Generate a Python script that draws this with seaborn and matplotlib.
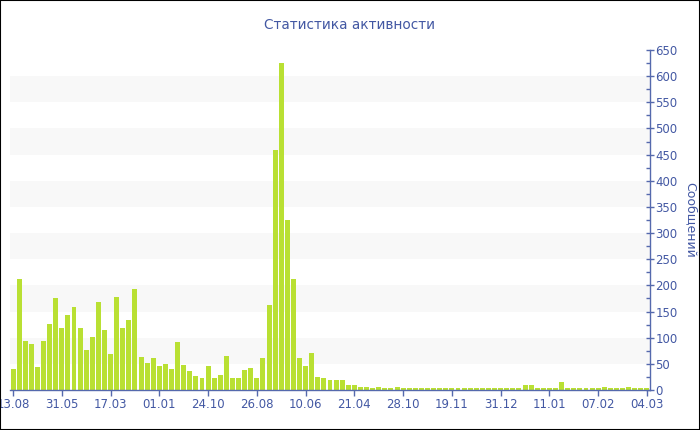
import matplotlib
matplotlib.use("Agg")
import matplotlib.pyplot as plt
from matplotlib.patches import Rectangle
from matplotlib.ticker import MultipleLocator
import seaborn as sns
import pandas as pd

# ---- data ----
messages = [40, 213, 93, 87, 44, 94, 126, 176, 119, 143, 159, 118, 76, 101, 168,
            114, 68, 177, 118, 134, 193, 64, 52, 62, 46, 49, 40, 91, 48, 36,
            26, 22, 45, 22, 28, 65, 22, 22, 38, 42, 22, 61, 162, 459, 626,
            325, 212, 62, 45, 71, 24, 23, 19, 19, 20, 10, 10, 6, 6, 3,
            6, 3, 4, 6, 4, 3, 3, 3, 4, 3, 4, 3, 4, 3, 3,
            3, 4, 4, 3, 4, 3, 3, 3, 4, 10, 10, 3, 3, 3, 3,
            15, 4, 4, 3, 3, 3, 3, 6, 3, 3, 3, 6, 4, 3, 4]
periods = list(range(len(messages)))
tick_labels = ["13.08", "31.05", "17.03", "01.01", "24.10", "26.08", "10.06",
               "21.04", "28.10", "19.11", "31.12", "11.01", "07.02", "04.03"]
tick_step = 8

title = "Статистика активности"
ylabel = "Сообщений"

# ---- style ----
sns.set_theme(style="white")
plt.rcParams["font.family"] = ["DejaVu Sans"]
text_c = "#4358a3"
axis_c = "#5569ad"
bar_c = "#b9e033"

df = pd.DataFrame({"period": periods, "messages": messages})

fig = plt.figure(figsize=(7, 4.3), dpi=100)
ax = fig.add_axes([10 / 700, 40 / 430, 640 / 700, 340 / 430])

for lo in range(50, 650, 100):
    ax.axhspan(lo, lo + 50, color="#f8f8f8", zorder=0, lw=0)

sns.barplot(data=df, x="period", y="messages", color=bar_c, saturation=1,
            width=0.82, ax=ax, zorder=2, linewidth=0)

ax.set_xlim(-0.5, len(messages) - 0.5)
ax.set_ylim(0, 650)

ax.set_xticks(range(0, len(messages), tick_step))
ax.set_xticklabels(tick_labels)
ax.set_xlabel("")

ax.yaxis.tick_right()
ax.yaxis.set_label_position("right")
ax.yaxis.set_major_locator(MultipleLocator(50))
ax.yaxis.set_minor_locator(MultipleLocator(25))
ax.set_ylabel(ylabel, rotation=270, labelpad=14, color=text_c, fontsize=9)

for s in ["top", "left"]:
    ax.spines[s].set_visible(False)
ax.spines["right"].set_color(axis_c)
ax.spines["bottom"].set_color(axis_c)
ax.spines["right"].set_linewidth(1)
ax.spines["bottom"].set_linewidth(1)

ax.tick_params(axis="x", colors=axis_c, labelcolor=text_c, labelsize=8.5,
               length=4, width=1, direction="out", bottom=True, pad=2)
ax.tick_params(axis="y", which="major", colors=axis_c, labelcolor=text_c,
               labelsize=8.5, length=6, width=1, direction="inout", right=True, pad=1)
ax.tick_params(axis="y", which="minor", colors=axis_c, length=3, width=1,
               direction="in", right=True)

fig.text(0.5, 1 - 25 / 430, title, ha="center", va="center",
         color=text_c, fontsize=9.8)

fig.patches.append(Rectangle((0, 0), 1, 1, transform=fig.transFigure,
                             fill=False, edgecolor="black", linewidth=1.5,
                             zorder=10))

fig.savefig("out.png", dpi=100)
